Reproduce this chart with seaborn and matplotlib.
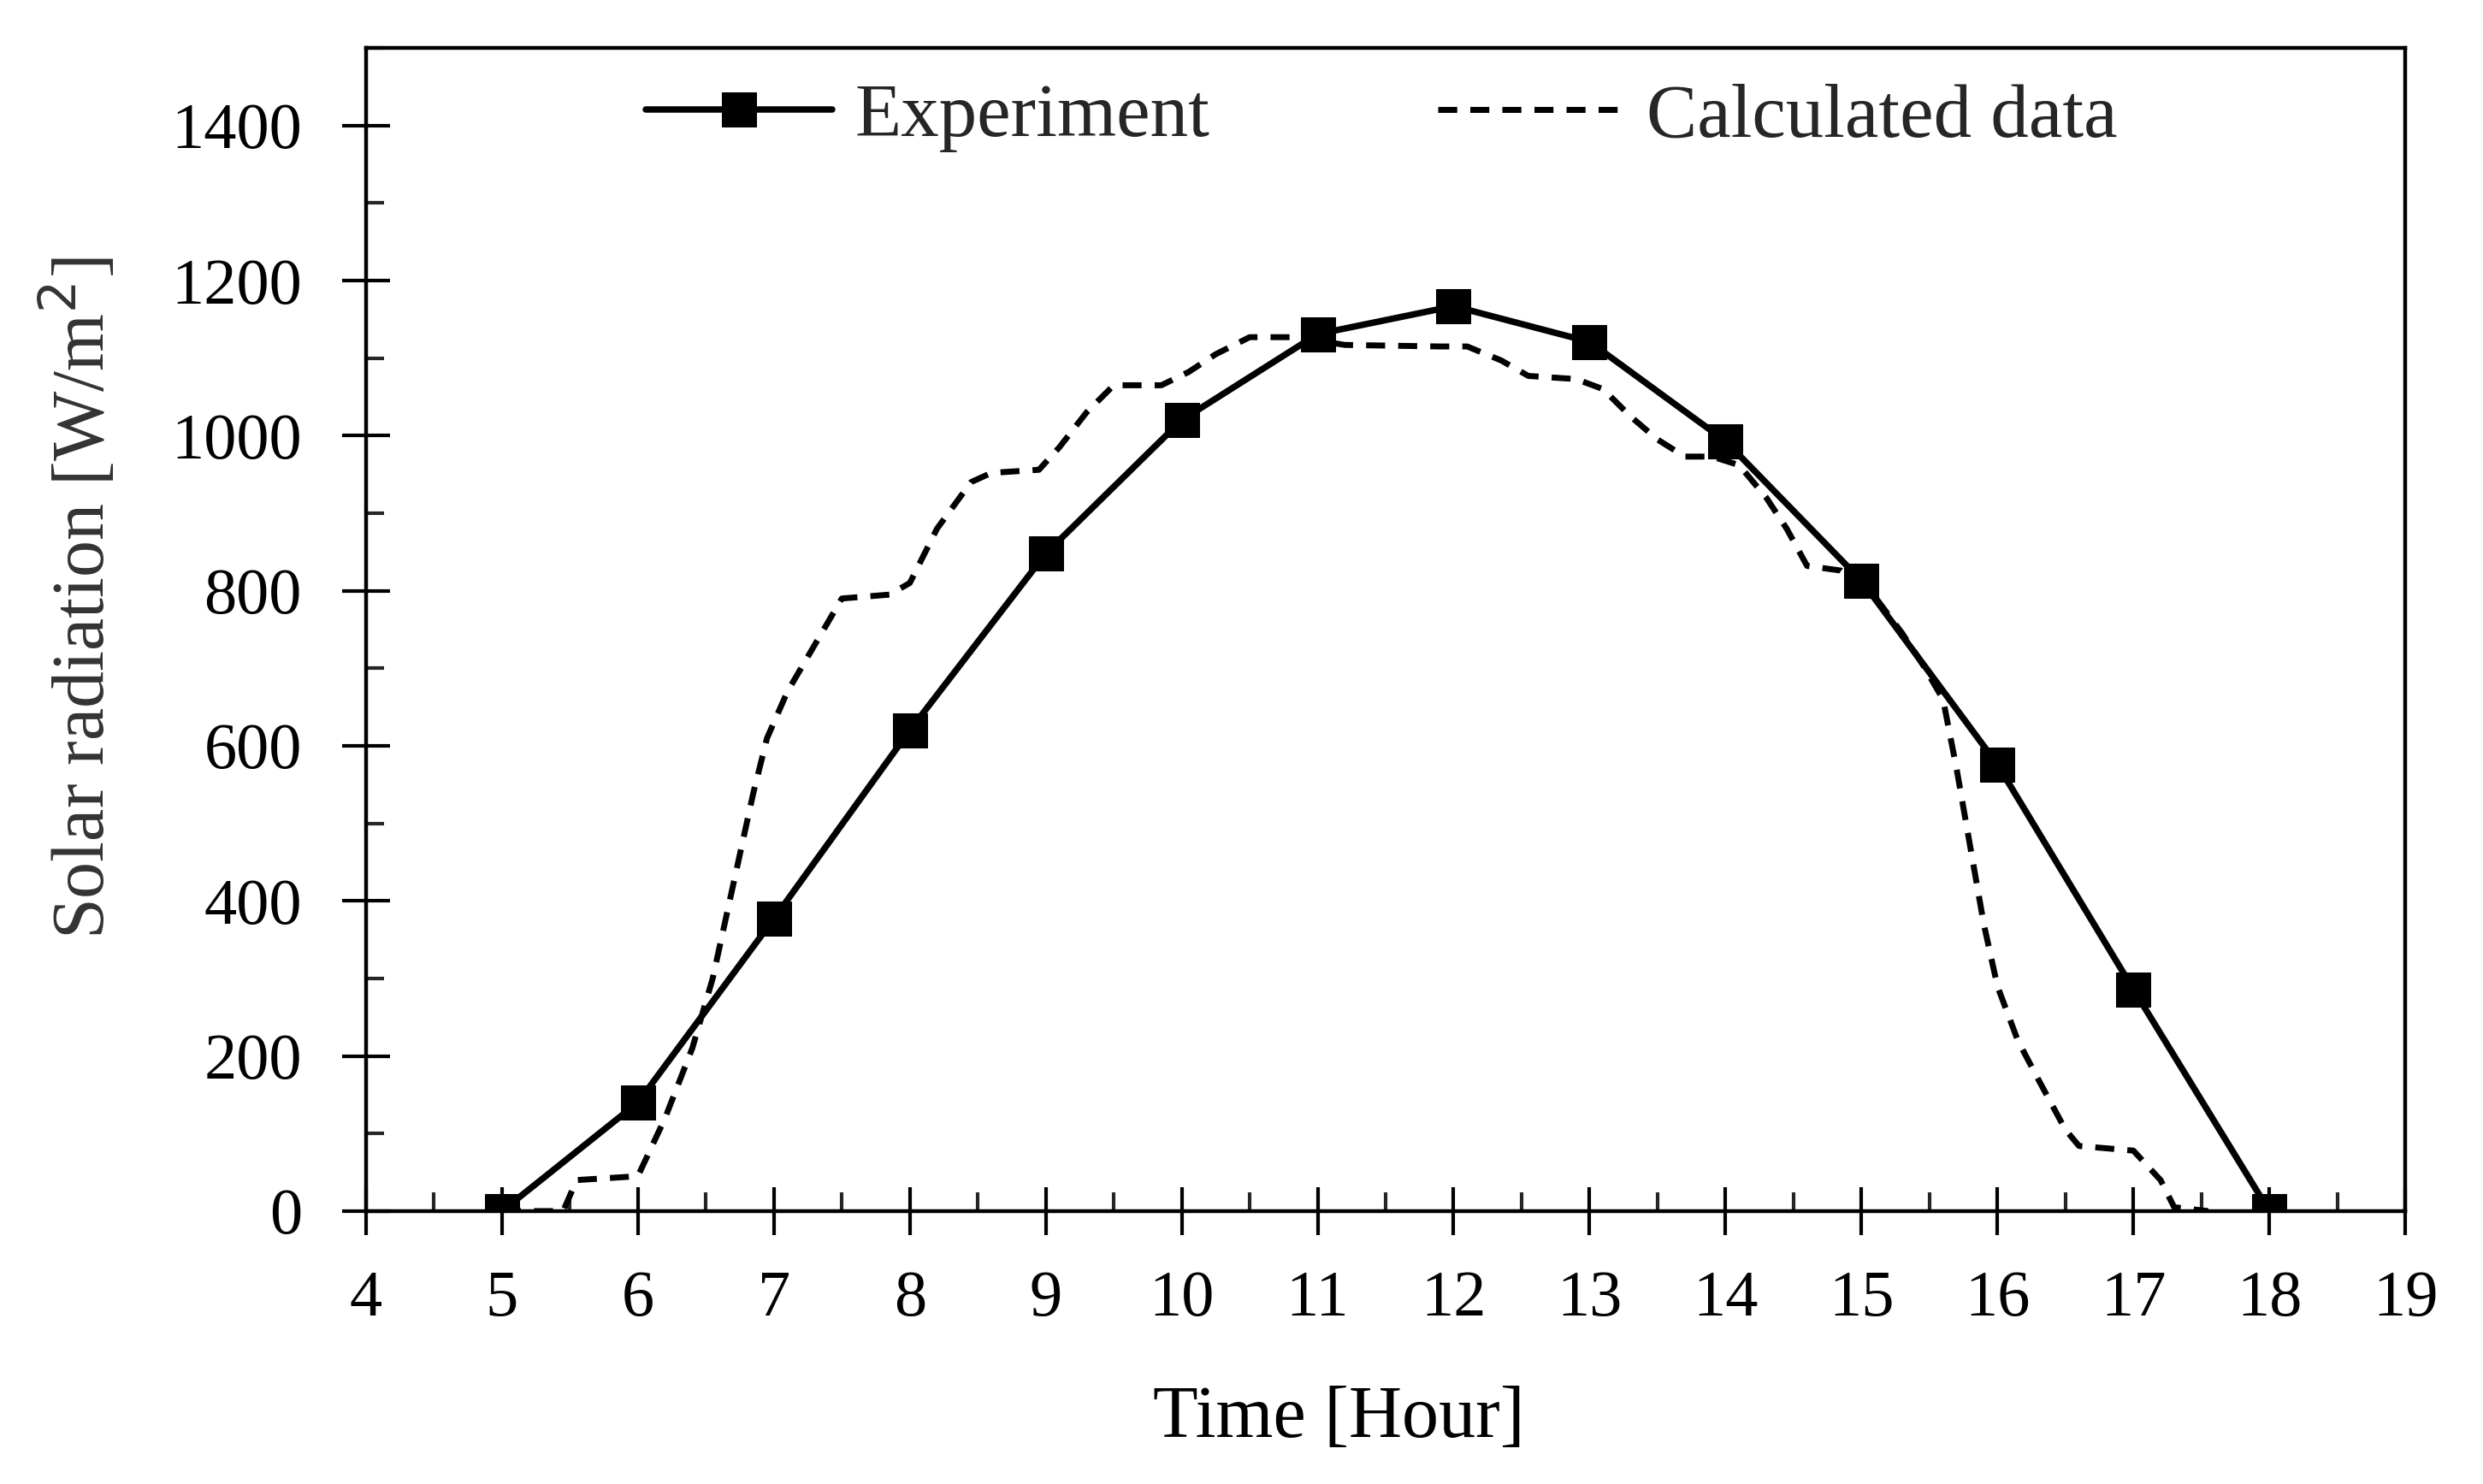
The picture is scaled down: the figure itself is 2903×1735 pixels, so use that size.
import numpy as np
import pandas as pd
import seaborn as sns
import matplotlib.pyplot as plt
from matplotlib.ticker import MultipleLocator

# measured data (hourly)
exp_hour = [5, 6, 7, 8, 9, 10, 11, 12, 13, 14, 15, 16, 17, 18]
exp_rad = [0, 140, 377, 620, 848, 1020, 1131, 1167, 1121, 993, 813, 576, 286, 0]

# calculated curve
calc_hour = [5.0, 5.45, 5.55, 6.0, 6.2, 6.4, 6.55, 6.65, 6.75, 6.85, 6.95, 7.1,
             7.3, 7.5, 7.85, 8.0, 8.2, 8.45, 8.6, 8.95, 9.1, 9.3, 9.5, 9.85,
             10.05, 10.25, 10.5, 10.85, 11.2, 11.9, 12.1, 12.35, 12.55, 12.9,
             13.1, 13.3, 13.5, 13.7, 13.9, 14.1, 14.3, 14.45, 14.6, 14.85,
             15.1, 15.3, 15.45, 15.6, 15.7, 15.8, 15.9, 16.0, 16.15, 16.3,
             16.5, 16.6, 17.0, 17.2, 17.3, 17.55]
calc_rad = [0, 0, 40, 45, 120, 210, 300, 380, 460, 540, 610, 670,
            730, 790, 795, 810, 880, 940, 952, 956, 985, 1030, 1065, 1065,
            1082, 1105, 1127, 1127, 1117, 1115, 1115, 1097, 1077, 1073,
            1060, 1025, 995, 973, 973, 962, 920, 880, 832, 826,
            792, 745, 705, 660, 570, 470, 370, 290, 220, 170,
            105, 84, 78, 40, 5, 0]

sns.set_style('ticks')
plt.rcParams['font.family'] = ['Liberation Serif', 'DejaVu Serif']
plt.rcParams['font.size'] = 55

exp_df = pd.DataFrame({'hour': exp_hour, 'rad': exp_rad})
calc_df = pd.DataFrame({'hour': calc_hour, 'rad': calc_rad})

fig = plt.figure(figsize=(29.03, 17.35), dpi=100)
ax = fig.add_axes([0.1474, 0.1839, 0.8213, 0.7838])

sns.lineplot(data=exp_df, x='hour', y='rad', ax=ax, color='black', lw=5.4,
             marker='s', markersize=29, markeredgecolor='black',
             label='Experiment', sort=False)
sns.lineplot(data=calc_df, x='hour', y='rad', ax=ax, color='black', lw=5,
             linestyle=(0, (3.2, 2.2)), label='Calculated data', sort=False)

ax.set_xlim(4, 19)
ax.set_ylim(0, 1500)
ax.set_xticks(range(4, 20))
ax.set_yticks(range(0, 1401, 200))
ax.xaxis.set_minor_locator(MultipleLocator(0.5))
ax.yaxis.set_minor_locator(MultipleLocator(100))

ax.tick_params(axis='both', which='major', direction='inout', length=40,
               width=3, color='black', labelcolor='black')
ax.tick_params(axis='x', which='major', pad=30)
ax.tick_params(axis='y', which='major', pad=34)
ax.tick_params(axis='x', which='minor', direction='in', length=16, width=3)
ax.tick_params(axis='y', which='minor', direction='in', length=15, width=3)
ax.tick_params(top=False, right=False, which='both')

for sp in ax.spines.values():
    sp.set_visible(True)
    sp.set_linewidth(3.2)
    sp.set_color('black')

ax.set_xlabel('Time [Hour]', fontsize=62, color='black')
ax.set_ylabel('Solar radiation [W/m$^2$]', fontsize=62, color='#333333')
ax.xaxis.set_label_coords(0.477, -0.15)
ax.yaxis.set_label_coords(-0.12, 0.527)

ax.legend(loc='center', bbox_to_anchor=(0.498, 0.94), ncol=2,
          frameon=False, fontsize=64, handlelength=2.45, handletextpad=0.3,
          columnspacing=3.0)

fig.savefig('out.png', dpi=100)
